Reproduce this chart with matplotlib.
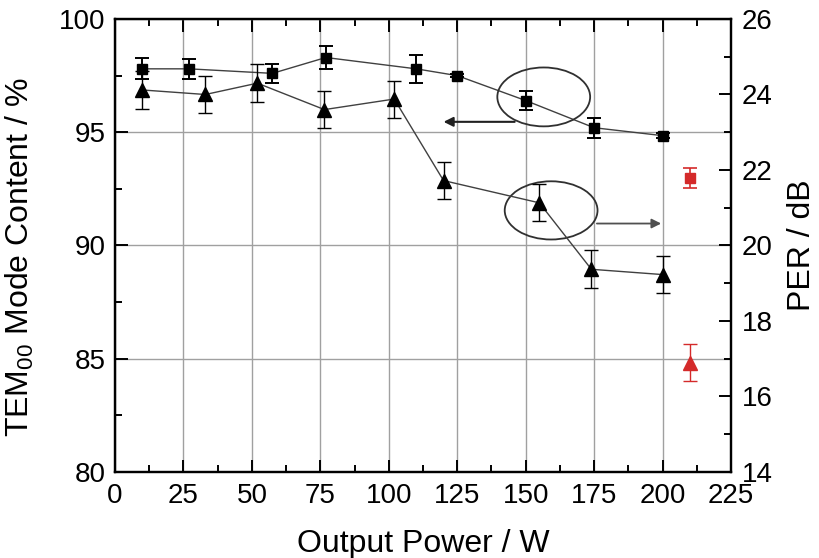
import matplotlib
matplotlib.use("Agg")
import matplotlib.pyplot as plt
from matplotlib.patches import Ellipse
from matplotlib.ticker import MultipleLocator

plt.rcParams['font.family'] = ['Liberation Sans', 'DejaVu Sans']
plt.rcParams['mathtext.fontset'] = 'custom'
plt.rcParams['mathtext.rm'] = 'Liberation Sans'

# TEM00 mode content (left axis)
tem_power = [10, 27, 57.5, 77, 110, 125, 150, 175, 200]
tem_value = [97.8, 97.8, 97.6, 98.3, 97.8, 97.5, 96.4, 95.2, 94.85]
tem_err = [0.47, 0.45, 0.43, 0.52, 0.62, 0.08, 0.43, 0.45, 0.1]
tem_red_power = [210]
tem_red_value = [93.0]
tem_red_err = [0.44]

# PER (right axis)
per_power = [10, 33, 52, 76.5, 102, 120, 155, 174, 200]
per_value = [24.12, 24.0, 24.3, 23.6, 23.88, 21.72, 21.13, 19.37, 19.23]
per_err = [0.5, 0.49, 0.5, 0.5, 0.49, 0.49, 0.49, 0.5, 0.49]
per_red_power = [210]
per_red_value = [16.9]
per_red_err = [0.5]

red = '#d42a2a'

fig = plt.figure(figsize=(8.2, 5.58), dpi=100)
ax = fig.add_axes([115/820, 1-472/558, (731-115)/820, (472-19)/558])
ax2 = ax.twinx()

ax.set_xlim(0, 225)
ax.set_ylim(80, 100)
ax2.set_ylim(14, 26)

ax.xaxis.set_major_locator(MultipleLocator(25))
ax.xaxis.set_minor_locator(MultipleLocator(12.5))
ax.yaxis.set_major_locator(MultipleLocator(5))
ax.yaxis.set_minor_locator(MultipleLocator(2.5))
ax2.yaxis.set_major_locator(MultipleLocator(2))
ax2.yaxis.set_minor_locator(MultipleLocator(1))

ax.grid(True, which='major', color='#a0a0a0', linewidth=1.0)
ax.set_axisbelow(True)

TS = 20
for a in (ax, ax2):
    for s in a.spines.values():
        s.set_linewidth(1.6)
ax.tick_params(axis='x', which='both', direction='in', top=True, labelsize=TS, width=1.4, pad=8)
ax.tick_params(axis='x', which='major', length=9)
ax.tick_params(axis='x', which='minor', length=5)
ax.tick_params(axis='y', which='both', direction='in', right=False, labelsize=TS, width=1.4, pad=7)
ax.tick_params(axis='y', which='major', length=9)
ax.tick_params(axis='y', which='minor', length=5)
ax2.tick_params(axis='y', which='both', direction='in', labelsize=TS, width=1.4, pad=8)
ax2.tick_params(axis='y', which='major', length=9)
ax2.tick_params(axis='y', which='minor', length=5)

ax.errorbar(tem_power, tem_value, yerr=tem_err, fmt='s', color='black', ms=7,
            ecolor='black', elinewidth=1.4, capsize=5, capthick=1.4, zorder=4)
ax.plot(tem_power, tem_value, '-', color='#404040', lw=1.0, zorder=3)
ax.errorbar(tem_red_power, tem_red_value, yerr=tem_red_err, fmt='s', color=red, ms=7,
            ecolor=red, elinewidth=1.2, capsize=5, capthick=1.2, zorder=4)

ax2.errorbar(per_power, per_value, yerr=per_err, fmt='^', color='black', ms=10,
             ecolor='black', elinewidth=1.0, capsize=5, capthick=1.0, zorder=4)
ax2.plot(per_power, per_value, '-', color='#404040', lw=1.0, zorder=3)
ax2.errorbar(per_red_power, per_red_value, yerr=per_red_err, fmt='^', color=red, ms=10,
             ecolor=red, elinewidth=1.0, capsize=5, capthick=1.0, zorder=4)

# Ellipses and arrows indicating axes
ax.add_patch(Ellipse((156.6, 96.56), 33.9, 2.6, fill=False, edgecolor='#303030', lw=1.3, zorder=5))
ax.annotate('', xy=(119, 95.46), xytext=(147, 95.46),
            arrowprops=dict(arrowstyle='-|>', color='#202020', lw=1.5, mutation_scale=14), zorder=5)
ax.add_patch(Ellipse((159.3, 91.55), 33.9, 2.57, fill=False, edgecolor='#303030', lw=1.3, zorder=5))
ax.annotate('', xy=(200.5, 90.97), xytext=(175, 90.97),
            arrowprops=dict(arrowstyle='-|>', color='#505050', lw=1.3, mutation_scale=14), zorder=5)

LS = 23
ax.set_xlabel('Output Power / W', fontsize=LS, labelpad=14)
ax.set_ylabel('TEM$_{00}$ Mode Content / %', fontsize=LS)
ax.yaxis.set_label_coords(-0.128, 0.475)
ax2.set_ylabel('PER / dB', fontsize=LS, labelpad=10)

fig.savefig('out.png', dpi=100)
